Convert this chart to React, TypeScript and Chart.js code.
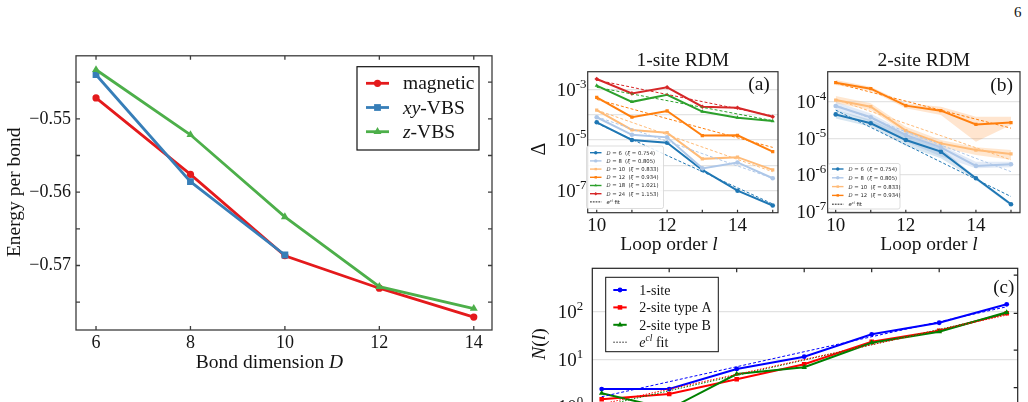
import React, { useEffect, useRef } from 'react';
import { Chart, registerables } from 'chart.js';

Chart.register(...registerables);

const SERIF = '"Liberation Serif", "Times New Roman", serif';
const SANS = '"DejaVu Sans", "Liberation Sans", sans-serif';
const INK = '#141414';

// ---------- Energy per bond vs bond dimension D ----------
const bondDims = [6, 8, 10, 12, 14];
const xyBondDims = [6, 8, 10];
const magneticEnergy = [-0.54715, -0.55757, -0.56867, -0.5731, -0.57704];
const xyVbsEnergy = [-0.54398, -0.55856, -0.56857];
const zVbsEnergy = [-0.5433, -0.55217, -0.56337, -0.57288, -0.57587];
const energyTickValues = [-0.575, -0.57, -0.565, -0.56, -0.555, -0.55, -0.545];
const energyLabelValues = [-0.57, -0.56, -0.55];
const energyColors = ['#e41a1c', '#377eb8', '#4daf4a'];

// ---------- Truncation error Δ vs loop order l ----------
const loopOrders = [10, 11, 12, 13, 14, 15];
const loopLabelTicks = [10, 12, 14];
const fitRange = [10, 15];

const oneSiteDims = [6, 8, 10, 12, 18, 24];
const oneSiteXi = ['0.754', '0.805', '0.833', '0.934', '1.021', '1.153'];
const oneSiteColors = ['#1f77b4', '#aec7e8', '#ffbb78', '#ff7f0e', '#2ca02c', '#d62728'];
const oneSiteMarkers = ['circle', 'circle', 'rect', 'rect', 'triangle', 'rectRot'];
const oneSiteD6 = [5.0e-5, 1.0e-5, 7.8e-6, 6.6e-7, 1.0e-7, 2.6e-8];
const oneSiteD8 = [7.9e-5, 1.6e-5, 1.27e-5, 7.6e-7, 1.3e-6, 3.1e-7];
const oneSiteD10 = [1.52e-4, 2.5e-5, 1.95e-5, 1.8e-6, 2.1e-6, 6.6e-7];
const oneSiteD12 = [4.8e-4, 7.9e-5, 1.4e-4, 1.5e-5, 1.53e-5, 3.5e-6];
const oneSiteD18 = [1.39e-3, 3.2e-4, 6.1e-4, 1.32e-4, 7.6e-5, 5.6e-5];
const oneSiteD24 = [2.55e-3, 6.9e-4, 1.2e-3, 2.06e-4, 1.88e-4, 8.3e-5];
const oneSiteFitStart = [4.6e-5, 8.3e-5, 1.52e-4, 4.0e-4, 1.2e-3, 2.3e-3];
const oneSiteFitEnd = [3.0e-8, 3.1e-7, 5.6e-7, 5.1e-6, 5.8e-5, 8.9e-5];
const oneSiteLabelExps = [-7, -5, -3];
const oneSiteGridExps = [-7, -6, -5, -4, -3];

const twoSiteDims = [6, 8, 10, 12];
const twoSiteXi = ['0.754', '0.805', '0.833', '0.934'];
const twoSiteColors = ['#1f77b4', '#aec7e8', '#ffbb78', '#ff7f0e'];
const twoSiteBands = ['rgba(31,119,180,0.18)', 'rgba(174,199,232,0.35)', 'rgba(255,187,120,0.35)', 'rgba(255,127,14,0.2)'];
const twoSiteMarkers = ['circle', 'circle', 'rect', 'rect'];
const twoSiteD6 = [4.5e-5, 2.58e-5, 9.0e-6, 4.35e-6, 8.2e-7, 1.6e-7];
const twoSiteD8 = [7.6e-5, 3.76e-5, 1.24e-5, 5.7e-6, 1.78e-6, 1.97e-6];
const twoSiteD10 = [1.11e-4, 7.3e-5, 1.62e-5, 7.3e-6, 4.8e-6, 3.76e-6];
const twoSiteD12 = [3.3e-4, 2.26e-4, 7.8e-5, 5.7e-5, 2.4e-5, 2.7e-5];
const twoSiteUpperD6 = [5.9e-5, 3.2e-5, 1.24e-5, 5.4e-6, 9.0e-7, 1.77e-7];
const twoSiteLowerD6 = [3.5e-5, 2.08e-5, 6.2e-6, 2.86e-6, 7.3e-7, 1.44e-7];
const twoSiteUpperD8 = [1.0e-4, 4.8e-5, 1.52e-5, 6.6e-6, 2.3e-6, 2.3e-6];
const twoSiteLowerD8 = [5.9e-5, 2.85e-5, 8.1e-6, 3.2e-6, 1.53e-6, 1.63e-6];
const twoSiteUpperD10 = [1.43e-4, 9.0e-5, 2.08e-5, 9.0e-6, 5.7e-6, 4.8e-6];
const twoSiteLowerD10 = [9.0e-5, 5.9e-5, 1.37e-5, 5.7e-6, 3.5e-6, 2.6e-6];
const twoSiteUpperD12 = [3.9e-4, 2.56e-4, 9.0e-5, 7.3e-5, 3.9e-5, 3.9e-5];
const twoSiteLowerD12 = [2.85e-4, 2.0e-4, 6.6e-5, 4.35e-5, 8.1e-6, 2.3e-5];
const twoSiteFitStart = [5.9e-5, 8.1e-5, 1.16e-4, 3.2e-4];
const twoSiteFitEnd = [2.6e-7, 1.24e-6, 2.6e-6, 1.9e-5];
const twoSiteLabelExps = [-7, -6, -5, -4];
const twoSiteGridExps = [-7, -6, -5, -4];

// ---------- Number of loops N(l) ----------
const countLoops = [9, 10, 11, 12, 13, 14, 15];
const countFitRange = [9, 15];
const countTopTicks = [10, 11, 12, 13, 14];
const oneSiteCount = [2.39, 2.39, 6.3, 11.4, 33.6, 58.7, 143];
const twoSiteACount = [1.46, 1.88, 3.83, 7.89, 23.5, 40, 92.5];
const twoSiteBCount = [1.95, 0.91, 4.94, 6.83, 22.4, 38.1, 97];
const oneSiteCountFit = [1.65, 127];
const twoSiteACountFit = [1.16, 85];
const twoSiteBCountFit = [1.05, 89];
const countColors = ['#0000ff', '#ff0000', '#008000'];
const countMarkers = ['circle', 'rect', 'triangle'];
const countLabelExps = [0, 1, 2];
const countRightTicks = [2.55, 15.7, 92.5, 587];

// ---------- drawing helpers ----------
type Seg = { t: string; it?: boolean; sup?: boolean };
type Box = { left: number; top: number; width: number; height: number };
type Area = { left: number; top: number; right: number; bottom: number };

function drawRich(ctx: any, segs: Seg[], x: number, y: number, o: any) {
  const supScale = o.supScale ?? 0.68;
  const supRise = o.supRise ?? 0.42;
  const fonts = segs.map((s) => `${s.it ? 'italic ' : ''}${s.sup ? o.size * supScale : o.size}px ${o.family}`);
  const widths = segs.map((s, i) => {
    ctx.font = fonts[i];
    return ctx.measureText(s.t).width;
  });
  const total = widths.reduce((a, b) => a + b, 0);
  let cx = o.align === 'center' ? x - total / 2 : o.align === 'right' ? x - total : x;
  ctx.textAlign = 'left';
  ctx.textBaseline = 'alphabetic';
  ctx.fillStyle = o.color ?? INK;
  segs.forEach((s, i) => {
    ctx.font = fonts[i];
    ctx.fillText(s.t, cx, s.sup ? y - o.size * supRise : y);
    cx += widths[i];
  });
}

function drawRotated(ctx: any, segs: Seg[], x: number, y: number, size: number) {
  ctx.save();
  ctx.translate(x, y);
  ctx.rotate(-Math.PI / 2);
  drawRich(ctx, segs, 0, 0, { size, family: SERIF, align: 'center' });
  ctx.restore();
}

function marker(ctx: any, style: string, x: number, y: number, r: number, color: string) {
  ctx.fillStyle = color;
  ctx.beginPath();
  if (style === 'rect') {
    const s = r * Math.SQRT1_2;
    ctx.rect(x - s, y - s, 2 * s, 2 * s);
  } else if (style === 'rectRot') {
    ctx.moveTo(x, y - r);
    ctx.lineTo(x + r, y);
    ctx.lineTo(x, y + r);
    ctx.lineTo(x - r, y);
    ctx.closePath();
  } else if (style === 'triangle') {
    for (let k = 0; k < 3; k++) {
      const a = (k * 2 * Math.PI) / 3;
      const px = x + Math.sin(a) * r;
      const py = y - Math.cos(a) * r;
      if (k === 0) ctx.moveTo(px, py);
      else ctx.lineTo(px, py);
    }
    ctx.closePath();
  } else {
    ctx.arc(x, y, r, 0, Math.PI * 2);
  }
  ctx.fill();
}

function handle(ctx: any, x1: number, x2: number, y: number, color: string, lw: number, dash: number[]) {
  ctx.save();
  ctx.strokeStyle = color;
  ctx.lineWidth = lw;
  ctx.setLineDash(dash);
  ctx.beginPath();
  ctx.moveTo(x1, y);
  ctx.lineTo(x2, y);
  ctx.stroke();
  ctx.restore();
}

function frame(ctx: any, a: Area, color: string, lw: number) {
  ctx.strokeStyle = color;
  ctx.lineWidth = lw;
  ctx.setLineDash([]);
  ctx.strokeRect(a.left, a.top, a.right - a.left, a.bottom - a.top);
}

function powerLabel(ctx: any, exp: number, rightX: number, yMid: number, size: number) {
  drawRich(ctx, [{ t: '10' }, { t: String(exp), sup: true }], rightX, yMid + size * 0.33, {
    size,
    family: SERIF,
    align: 'right',
    supScale: 0.68,
    supRise: 0.42,
  });
}

function roundBox(ctx: any, x: number, y: number, w: number, h: number, r: number, fill: string, stroke: string, lw: number) {
  ctx.beginPath();
  ctx.moveTo(x + r, y);
  ctx.arcTo(x + w, y, x + w, y + h, r);
  ctx.arcTo(x + w, y + h, x, y + h, r);
  ctx.arcTo(x, y + h, x, y, r);
  ctx.arcTo(x, y, x + w, y, r);
  ctx.closePath();
  ctx.fillStyle = fill;
  ctx.fill();
  ctx.strokeStyle = stroke;
  ctx.lineWidth = lw;
  ctx.stroke();
}

function rdmLegend(ctx: any, box: Area, firstRow: number, step: number, dims: number[], xis: string[], colors: string[], markers: string[]) {
  roundBox(ctx, box.left, box.top, box.right - box.left, box.bottom - box.top, 2, 'rgba(255,255,255,0.85)', '#d4d4d4', 0.8);
  const lx1 = box.left + 3.5;
  const lx2 = box.left + 15;
  const tx = box.left + 20;
  dims.forEach((d, i) => {
    const y = firstRow + i * step;
    handle(ctx, lx1, lx2, y, colors[i], 1.4, []);
    marker(ctx, markers[i], (lx1 + lx2) / 2, y, 1.7, colors[i]);
    drawRich(ctx, [{ t: 'D', it: true }, { t: ` = ${d}  (` }, { t: 'ξ', it: true }, { t: ` = ${xis[i]})` }], tx, y + 1.9, {
      size: 5.3,
      family: SANS,
      color: '#2a2a2a',
    });
  });
  const fy = firstRow + dims.length * step;
  handle(ctx, lx1, lx2, fy, '#222', 1, [1.8, 1]);
  drawRich(ctx, [{ t: 'e', it: true }, { t: 'cl', it: true, sup: true }, { t: ' fit' }], tx, fy + 1.9, {
    size: 5.3,
    family: SANS,
    color: '#2a2a2a',
  });
}

// ---------- chart factory ----------
function series(xs: number[], ys: number[]) {
  return xs.map((x, i) => ({ x, y: ys[i] }));
}

function linearX(min: number, max: number, labels: number[], size: number, pad: number, show = true) {
  return {
    type: 'linear',
    min,
    max,
    afterBuildTicks: (s: any) => {
      s.ticks = labels.map((v) => ({ value: v }));
    },
    grid: { display: false, drawTicks: false },
    border: { display: false },
    ticks: {
      display: show,
      font: { family: SERIF, size },
      color: INK,
      padding: pad,
      maxRotation: 0,
      autoSkip: false,
      callback: (v: any) => String(v),
    },
  };
}

function logY(minExp: number, maxExp: number, gridExps: number[], gridColor: string) {
  return {
    type: 'logarithmic',
    min: 10 ** minExp,
    max: 10 ** maxExp,
    afterBuildTicks: (s: any) => {
      s.ticks = gridExps.map((e) => ({ value: 10 ** e }));
    },
    grid: { display: true, color: gridColor, lineWidth: 1.2, drawTicks: false },
    border: { display: false },
    ticks: { display: false },
  };
}

type Helpers = { x: (v: number) => number; y: (v: number) => number; area: Area };

// The axis boxes take up the whole margin left of and below the plot area,
// so the plot area lands exactly on `area` (page coordinates).
function buildPanel(canvas: HTMLCanvasElement, box: Box, area: Area, datasets: any[], scales: any, deco: (ctx: any, h: Helpers) => void) {
  const leftGap = area.left - box.left;
  const bottomGap = box.top + box.height - area.bottom;
  scales.x.afterFit = (s: any) => {
    s.height = bottomGap;
  };
  scales.y.afterFit = (s: any) => {
    s.width = leftGap;
  };
  const padding = {
    left: 0,
    top: area.top - box.top,
    right: box.left + box.width - area.right,
    bottom: 0,
  };
  return new Chart(canvas, {
    type: 'line',
    data: { datasets },
    options: {
      responsive: false,
      animation: false,
      devicePixelRatio: 1,
      layout: { padding },
      elements: { line: { tension: 0 } },
      plugins: { legend: { display: false }, tooltip: { enabled: false } },
      scales,
    } as any,
    plugins: [
      {
        id: 'panelDecor',
        afterDraw(chart: any) {
          const ctx = chart.ctx;
          const ca = chart.chartArea;
          const pageArea = {
            left: ca.left + box.left,
            top: ca.top + box.top,
            right: ca.right + box.left,
            bottom: ca.bottom + box.top,
          };
          ctx.save();
          ctx.translate(-box.left, -box.top);
          deco(ctx, {
            x: (v) => chart.scales.x.getPixelForValue(v) + box.left,
            y: (v) => chart.scales.y.getPixelForValue(v) + box.top,
            area: pageArea,
          });
          ctx.restore();
        },
      },
    ],
  });
}

// ---------- panels ----------
const energyBox: Box = { left: 0, top: 40, width: 510, height: 345 };
const energyArea: Area = { left: 76, top: 55, right: 492, bottom: 330 };

function buildEnergy(canvas: HTMLCanvasElement) {
  const names = ['magnetic', 'xy-VBS', 'z-VBS'];
  const styles = ['circle', 'rect', 'triangle'];
  const radii = [3.6, 4.8, 4.6];
  const xsets = [bondDims, xyBondDims, bondDims];
  const ysets = [magneticEnergy, xyVbsEnergy, zVbsEnergy];
  const datasets = names.map((name, i) => ({
    label: name,
    data: series(xsets[i], ysets[i]),
    borderColor: energyColors[i],
    backgroundColor: energyColors[i],
    borderWidth: 2.8,
    pointStyle: styles[i],
    pointRadius: radii[i],
    pointBorderWidth: 0,
    order: 3 - i,
  }));
  const scales = {
    x: linearX(5.576, 14.386, bondDims, 18, 2),
    y: {
      type: 'linear',
      min: -0.5788,
      max: -0.5414,
      afterBuildTicks: (s: any) => {
        s.ticks = energyLabelValues.map((v) => ({ value: v }));
      },
      grid: { display: false, drawTicks: false },
      border: { display: false },
      ticks: {
        font: { family: SERIF, size: 18 },
        color: INK,
        padding: 5,
        callback: (v: any) => Number(v).toFixed(2).replace('-', '\u2212'),
      },
    },
  };
  return buildPanel(canvas, energyBox, energyArea, datasets, scales, (ctx, h) => {
    const a = h.area;
    frame(ctx, a, '#3c3c3c', 1.3);
    ctx.beginPath();
    bondDims.forEach((d) => {
      const x = h.x(d);
      ctx.moveTo(x, a.bottom);
      ctx.lineTo(x, a.bottom - 4);
      ctx.moveTo(x, a.top);
      ctx.lineTo(x, a.top + 4);
    });
    energyTickValues.forEach((v) => {
      const y = h.y(v);
      ctx.moveTo(a.left, y);
      ctx.lineTo(a.left + 4, y);
      ctx.moveTo(a.right, y);
      ctx.lineTo(a.right - 4, y);
    });
    ctx.stroke();

    drawRotated(ctx, [{ t: 'Energy per bond' }], 19.5, 192.3, 19.5);
    drawRich(ctx, [{ t: 'Bond dimension ' }, { t: 'D', it: true }], 269.5, 368, { size: 19.5, family: SERIF, align: 'center' });

    // legend
    ctx.fillStyle = '#ffffff';
    ctx.fillRect(357, 66.7, 122, 83.3);
    ctx.strokeStyle = '#111';
    ctx.lineWidth = 1.2;
    ctx.strokeRect(357, 66.7, 122, 83.3);
    const labels: Seg[][] = [
      [{ t: 'magnetic' }],
      [{ t: 'xy', it: true }, { t: '-VBS' }],
      [{ t: 'z', it: true }, { t: '-VBS' }],
    ];
    labels.forEach((segs, i) => {
      const y = 83.3 + i * 24.2;
      handle(ctx, 366, 389, y, energyColors[i], 2.8, []);
      marker(ctx, styles[i], 377.5, y, radii[i], energyColors[i]);
      drawRich(ctx, segs, 403, y + 6, { size: 19.5, family: SERIF });
    });
  });
}

const oneBox: Box = { left: 530, top: 40, width: 255, height: 220 };
const oneArea: Area = { left: 587.7, top: 71.7, right: 778, bottom: 212.7 };

function buildOneSite(canvas: HTMLCanvasElement) {
  const values = [oneSiteD6, oneSiteD8, oneSiteD10, oneSiteD12, oneSiteD18, oneSiteD24];
  const lines = values.map((vals, i) => ({
    label: `D = ${oneSiteDims[i]}`,
    data: series(loopOrders, vals),
    borderColor: oneSiteColors[i],
    backgroundColor: oneSiteColors[i],
    borderWidth: 2,
    pointStyle: oneSiteMarkers[i],
    pointRadius: 2.3,
    pointBorderWidth: 0,
    order: 10 - i,
  }));
  const fits = oneSiteFitStart.map((s, i) => ({
    label: `fit D = ${oneSiteDims[i]}`,
    data: series(fitRange, [s, oneSiteFitEnd[i]]),
    borderColor: oneSiteColors[i],
    borderWidth: 1,
    borderDash: [3, 2],
    pointRadius: 0,
    order: 1,
  }));
  const scales = {
    x: linearX(9.744, 15.15, loopLabelTicks, 19, 2),
    y: logY(-7.868, -2.306, oneSiteGridExps, '#e4e4e4'),
  };
  return buildPanel(canvas, oneBox, oneArea, [...lines, ...fits], scales, (ctx, h) => {
    const a = h.area;
    frame(ctx, a, '#333', 1.2);
    ctx.beginPath();
    loopOrders.forEach((l) => {
      const x = h.x(l);
      ctx.moveTo(x, a.bottom);
      ctx.lineTo(x, a.bottom - 3);
    });
    ctx.stroke();
    oneSiteLabelExps.forEach((e) => powerLabel(ctx, e, a.left - 1.2, h.y(10 ** e), 19));
    drawRich(ctx, [{ t: '1-site RDM' }], (a.left + a.right) / 2, 66, { size: 19.5, family: SERIF, align: 'center' });
    drawRich(ctx, [{ t: 'Loop order ' }, { t: 'l', it: true }], 669, 250, { size: 19.5, family: SERIF, align: 'center' });
    drawRotated(ctx, [{ t: 'Δ' }], 545, 149, 20);
    drawRich(ctx, [{ t: '(a)' }], 759, 89.5, { size: 19.5, family: SERIF, align: 'center' });
    rdmLegend(ctx, { left: 586.5, top: 146, right: 663.5, bottom: 208.5 }, 152.7, 8.2, oneSiteDims, oneSiteXi, oneSiteColors, oneSiteMarkers);
  });
}

const twoBox: Box = { left: 785, top: 40, width: 243, height: 220 };
const twoArea: Area = { left: 827.7, top: 71.7, right: 1020, bottom: 212.7 };

function buildTwoSite(canvas: HTMLCanvasElement) {
  const values = [twoSiteD6, twoSiteD8, twoSiteD10, twoSiteD12];
  const uppers = [twoSiteUpperD6, twoSiteUpperD8, twoSiteUpperD10, twoSiteUpperD12];
  const lowers = [twoSiteLowerD6, twoSiteLowerD8, twoSiteLowerD10, twoSiteLowerD12];
  const bands: any[] = [];
  uppers.forEach((up, i) => {
    bands.push({
      label: `band D = ${twoSiteDims[i]} upper`,
      data: series(loopOrders, up),
      borderColor: 'rgba(0,0,0,0)',
      borderWidth: 0,
      backgroundColor: twoSiteBands[i],
      pointRadius: 0,
      fill: '+1',
      order: 20,
    });
    bands.push({
      label: `band D = ${twoSiteDims[i]} lower`,
      data: series(loopOrders, lowers[i]),
      borderColor: 'rgba(0,0,0,0)',
      borderWidth: 0,
      pointRadius: 0,
      fill: false,
      order: 20,
    });
  });
  const lines = values.map((vals, i) => ({
    label: `D = ${twoSiteDims[i]}`,
    data: series(loopOrders, vals),
    borderColor: twoSiteColors[i],
    backgroundColor: twoSiteColors[i],
    borderWidth: 2,
    pointStyle: twoSiteMarkers[i],
    pointRadius: 2.3,
    pointBorderWidth: 0,
    order: 10 - i,
  }));
  const fits = twoSiteFitStart.map((s, i) => ({
    label: `fit D = ${twoSiteDims[i]}`,
    data: series(fitRange, [s, twoSiteFitEnd[i]]),
    borderColor: twoSiteColors[i],
    borderWidth: 1,
    borderDash: [3, 2],
    pointRadius: 0,
    order: 1,
  }));
  const scales = {
    x: linearX(9.772, 15.257, loopLabelTicks, 19, 2),
    y: logY(-7.025, -3.183, twoSiteGridExps, '#e4e4e4'),
  };
  return buildPanel(canvas, twoBox, twoArea, [...bands, ...lines, ...fits], scales, (ctx, h) => {
    const a = h.area;
    frame(ctx, a, '#333', 1.2);
    ctx.beginPath();
    loopOrders.forEach((l) => {
      const x = h.x(l);
      ctx.moveTo(x, a.bottom);
      ctx.lineTo(x, a.bottom - 3);
    });
    ctx.stroke();
    twoSiteLabelExps.forEach((e) => powerLabel(ctx, e, a.left - 1.5, h.y(10 ** e), 19));
    drawRich(ctx, [{ t: '2-site RDM' }], (a.left + a.right) / 2, 66, { size: 19.5, family: SERIF, align: 'center' });
    drawRich(ctx, [{ t: 'Loop order ' }, { t: 'l', it: true }], 929, 250, { size: 19.5, family: SERIF, align: 'center' });
    drawRich(ctx, [{ t: '(b)' }], 1001.7, 91, { size: 19.5, family: SERIF, align: 'center' });
    rdmLegend(ctx, { left: 828.5, top: 163.5, right: 900, bottom: 209 }, 169, 8.8, twoSiteDims, twoSiteXi, twoSiteColors, twoSiteMarkers);
  });
}

const countBox: Box = { left: 530, top: 255, width: 498, height: 225 };
const countArea: Area = { left: 592.3, top: 268.3, right: 1017.7, bottom: 440 };

function buildCount(canvas: HTMLCanvasElement) {
  const names = ['1-site', '2-site type A', '2-site type B'];
  const counts = [oneSiteCount, twoSiteACount, twoSiteBCount];
  const fitsVals = [oneSiteCountFit, twoSiteACountFit, twoSiteBCountFit];
  const radii = [2.4, 3.2, 3.2];
  const lines = counts.map((vals, i) => ({
    label: names[i],
    data: series(countLoops, vals),
    borderColor: countColors[i],
    backgroundColor: countColors[i],
    borderWidth: 2,
    pointStyle: countMarkers[i],
    pointRadius: radii[i],
    pointBorderWidth: 0,
    order: 10 - i,
  }));
  const fits = fitsVals.map((f, i) => ({
    label: `${names[i]} fit`,
    data: series(countFitRange, f),
    borderColor: countColors[i],
    borderWidth: 1,
    borderDash: i === 0 ? [3, 2] : [1.5, 1.5],
    pointRadius: 0,
    order: 1,
  }));
  const scales = {
    x: linearX(8.861, 15.163, countTopTicks, 19, 2, false),
    y: logY(-0.69, 2.91, [0, 1, 2], '#e2e2e2'),
  };
  return buildPanel(canvas, countBox, countArea, [...lines, ...fits], scales, (ctx, h) => {
    const a = h.area;
    frame(ctx, a, '#222', 1.2);
    ctx.beginPath();
    countTopTicks.forEach((l) => {
      const x = h.x(l);
      ctx.moveTo(x, a.top);
      ctx.lineTo(x, a.top + 4);
    });
    countRightTicks.forEach((v) => {
      const y = h.y(v);
      ctx.moveTo(a.right, y);
      ctx.lineTo(a.right - 4, y);
    });
    ctx.stroke();
    countLabelExps.forEach((e) => powerLabel(ctx, e, a.left - 9, h.y(10 ** e), 19));
    drawRotated(ctx, [{ t: 'N', it: true }, { t: '(' }, { t: 'l', it: true }, { t: ')' }], 545, 344, 19.5);
    drawRich(ctx, [{ t: '(c)' }], 1003.7, 293, { size: 19, family: SERIF, align: 'center' });

    // legend
    ctx.fillStyle = '#ffffff';
    ctx.fillRect(605.7, 277.3, 112.6, 74.4);
    ctx.strokeStyle = '#111';
    ctx.lineWidth = 1;
    ctx.strokeRect(605.7, 277.3, 112.6, 74.4);
    names.forEach((name, i) => {
      const y = 290 + i * 17.4;
      handle(ctx, 613.3, 626.7, y, countColors[i], 2, []);
      marker(ctx, countMarkers[i], 620, y, radii[i], countColors[i]);
      drawRich(ctx, [{ t: name }], 639.3, y + 5, { size: 14, family: SERIF });
    });
    const fy = 290 + 3 * 17.4;
    handle(ctx, 613.3, 626.7, fy, '#222', 1, [1.5, 1.5]);
    drawRich(ctx, [{ t: 'e', it: true }, { t: 'cl', it: true, sup: true }, { t: ' fit' }], 639.3, fy + 5, { size: 14, family: SERIF });
  });
}

function ChartCanvas({ box, build }: { box: Box; build: (c: HTMLCanvasElement) => Chart }) {
  const ref = useRef<HTMLCanvasElement>(null);
  useEffect(() => {
    const chart = build(ref.current as HTMLCanvasElement);
    return () => chart.destroy();
  }, []);
  return (
    <canvas
      ref={ref}
      width={box.width}
      height={box.height}
      style={{ position: 'absolute', left: box.left, top: box.top, width: box.width, height: box.height }}
    />
  );
}

export default function App() {
  return (
    <div style={{ position: 'absolute', left: 0, top: 0, width: 1028, height: 402, overflow: 'hidden', background: '#ffffff' }}>
      <ChartCanvas box={energyBox} build={buildEnergy} />
      <ChartCanvas box={oneBox} build={buildOneSite} />
      <ChartCanvas box={twoBox} build={buildTwoSite} />
      <ChartCanvas box={countBox} build={buildCount} />
      <div style={{ position: 'absolute', left: 1014, top: 4, font: `15px ${SERIF}`, color: INK, lineHeight: '17px' }}>6</div>
    </div>
  );
}
